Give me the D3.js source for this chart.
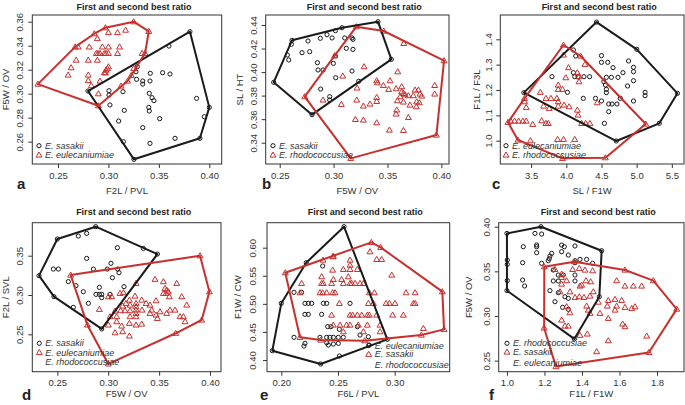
<!DOCTYPE html>
<html><head><meta charset="utf-8">
<script src="https://cdn.jsdelivr.net/npm/d3@7"></script>
<style>body{margin:0;background:#fff} text{font-family:"Liberation Sans",Arial,Helvetica,sans-serif}</style>
</head><body><svg id="c" width="685" height="405"></svg>
<script>
// ---------------- DATA ----------------
const titleText = "First and second best ratio";

// Panel a : F2L/PVL vs F5W/OV
const aXTicks = [0.25, 0.30, 0.35, 0.40];
const aYTicks = [0.26, 0.28, 0.30, 0.32, 0.34, 0.36];
const aLegend = ["E. sasakii", "E. eulecaniumiae"];
const aSas = [[0.2797,0.3022],[0.3808,0.3517],[0.40,0.2886],[0.3907,0.2628],[0.3253,0.2453],
 [0.36,0.3397],[0.3286,0.3225],[0.3273,0.3183],[0.3279,0.312],[0.3415,0.317],[0.3537,0.3175],[0.361,0.3164],
 [0.334,0.3106],[0.334,0.308],[0.3412,0.3106],[0.3005,0.3025],[0.3005,0.2989],[0.3015,0.2906],[0.3144,0.3017],
 [0.3157,0.2861],[0.3405,0.3003],[0.3432,0.2967],[0.3451,0.2942],[0.34,0.2886],[0.3405,0.2856],[0.3101,0.2772],
 [0.3508,0.2792],[0.334,0.2717],[0.3874,0.2961],[0.395,0.2808],[0.366,0.2628],[0.3148,0.26],[0.3412,0.2586]];
const aEul = [[0.23,0.308],[0.267,0.339],[0.286,0.350],[0.297,0.355],[0.325,0.360],[0.340,0.352],[0.3363,0.3337],[0.290,0.290],
 [0.270,0.339],[0.289,0.346],[0.300,0.351],[0.309,0.351],[0.317,0.353],[0.281,0.339],[0.294,0.339],[0.300,0.339],
 [0.311,0.339],[0.288,0.3336],[0.2897,0.3336],[0.2916,0.3336],[0.2959,0.3336],[0.2976,0.3336],[0.300,0.3336],
 [0.309,0.3336],[0.268,0.328],[0.280,0.328],[0.289,0.328],[0.263,0.3217],[0.300,0.3225],[0.299,0.321],
 [0.2976,0.3197],[0.297,0.3175],[0.260,0.3156],[0.280,0.3156],[0.296,0.3175],[0.280,0.311],[0.2916,0.3106],
 [0.283,0.3067],[0.290,0.300],[0.325,0.321],[0.3333,0.3336],[0.319,0.3106],[0.3125,0.3064],[0.3227,0.3153]];

// Panel b : F5W/OV vs SL/HT
const bXTicks = [0.25, 0.30, 0.35, 0.40];
const bYTicks = [0.34, 0.36, 0.38, 0.40, 0.42, 0.44];
const bLegend = ["E. sasakii", "E. rhodococcusiae"];
const bSas = [[0.2444,0.3913],[0.2614,0.427],[0.3078,0.4377],[0.3412,0.4428],[0.3536,0.4108],[0.28,0.3638],[0.3233,0.3922],
 [0.2571,0.4145],[0.2584,0.4103],[0.2608,0.4236],[0.2707,0.4165],[0.2763,0.4264],[0.2778,0.4173],[0.2877,0.4287],
 [0.2939,0.4318],[0.2986,0.429],[0.3017,0.4352],[0.285,0.408],[0.2856,0.4018],[0.2902,0.4018],[0.2998,0.4074],
 [0.3017,0.4137],[0.288,0.3856],[0.2964,0.3791],[0.2964,0.3763],[0.302,0.3952],[0.3103,0.429],[0.3171,0.429],
 [0.318,0.4278],[0.3118,0.4202],[0.318,0.4193],[0.3171,0.4009]];
const bRho = [[0.3211,0.4386],[0.3465,0.4349],[0.4025,0.4097],[0.3954,0.3465],[0.3159,0.3267],[0.2732,0.3791],
 [0.3283,0.4046],[0.3595,0.4003],[0.3085,0.3967],[0.34,0.3927],[0.3406,0.391],[0.3524,0.3927],[0.3462,0.3887],
 [0.3218,0.3865],[0.3511,0.3853],[0.358,0.3859],[0.3632,0.3876],[0.3632,0.3833],[0.3648,0.3819],[0.3663,0.3808],
 [0.3617,0.3791],[0.3694,0.38],[0.3756,0.3848],[0.3787,0.3848],[0.374,0.38],[0.3802,0.3814],[0.3818,0.3797],
 [0.3938,0.3887],[0.3938,0.3814],[0.3592,0.3757],[0.3648,0.3746],[0.3709,0.372],[0.3771,0.3748],[0.3796,0.374],
 [0.3768,0.3706],[0.3586,0.3678],[0.358,0.3644],[0.3694,0.3615],[0.2902,0.3763],[0.3072,0.3726],[0.3215,0.3763],
 [0.3276,0.3712],[0.3338,0.3729],[0.34,0.3785],[0.34,0.3751],[0.3202,0.3598],[0.3276,0.3593],[0.34,0.357],
 [0.3518,0.3508],[0.3648,0.3505],[0.3651,0.4244],[0.301,0.414]];

// Panel c : SL/F1W vs F1L/F3L
const cXTicks = [3.5, 4.0, 4.5, 5.0, 5.5];
const cYTicks = [1.0, 1.1, 1.2, 1.3, 1.4];
const cLegend = ["E. eulecaniumiae", "E. rhodococcusiae"];
const cEul = [[4.43,1.468],[5.002,1.3605],[5.58,1.1868],[5.322,1.0684],[4.711,0.9987],[3.397,1.1895],
 [4.101,1.3579],[4.134,1.334],[3.796,1.2526],[4.101,1.2684],[4.12,1.2526],[4.167,1.2526],[4.251,1.2526],
 [4.331,1.2526],[4.016,1.1908],[4.242,1.1671],[4.5,1.3355],[4.5,1.3092],[4.589,1.3092],[4.664,1.2882],
 [4.57,1.25],[4.641,1.25],[4.735,1.25],[4.805,1.2684],[4.885,1.3145],[4.955,1.2895],[4.955,1.2724],
 [4.955,1.2368],[4.871,1.2158],[5.12,1.1908],[5.12,1.1776],[4.533,1.2329],[4.556,1.2197],[4.57,1.2026],
 [4.57,1.1895],[4.415,1.1671],[4.5,1.1566],[4.603,1.1447],[4.65,1.1447],[4.768,1.1671],[4.72,1.1447],
 [4.955,1.1566],[4.603,1.1145],[4.542,1.0684]];
const cRho = [[3.96,1.3776],[4.204,1.3342],[5.129,1.0658],[4.556,0.9329],[3.946,0.9303],[3.312,1.0026],[3.171,1.0724],[3.406,1.1671],
 [3.96,1.3382],[4.031,1.2882],[3.993,1.2487],[4.157,1.2684],[4.181,1.2526],[4.181,1.2329],[4.265,1.3013],
 [3.885,1.2197],[3.885,1.2026],[3.946,1.2026],[3.631,1.1908],[3.711,1.1671],[3.782,1.1671],[3.866,1.1671],
 [3.885,1.154],[3.885,1.1368],[3.969,1.1408],[4.04,1.1342],[3.758,1.1276],[3.678,1.1368],[3.406,1.154],
 [3.43,1.1316],[3.65,1.079],[3.711,1.0684],[3.744,1.0684],[3.523,1.0645],[3.209,1.0776],[3.265,1.0776],
 [3.322,1.0776],[3.383,1.0776],[3.43,1.0776],[3.49,1.0],[3.876,1.0053],[3.96,1.0053],[4.12,1.0053],
 [4.157,1.121],[4.167,1.1013],[4.218,1.0684],[4.275,1.0684],[4.336,1.0684],[4.439,1.15]];

// Panel d : F5W/OV vs F2L/SVL
const dXTicks = [0.25, 0.30, 0.35, 0.40];
const dYTicks = [0.25, 0.30, 0.35];
const dLegend = ["E. sasakii", "E. eulecaniumiae", "E. rhodococcusiae"];
const dSas = [[0.232,0.3246],[0.25,0.3712],[0.2877,0.3869],[0.3483,0.3521],[0.2936,0.2568],[0.2467,0.2979],
 [0.2706,0.375],[0.2788,0.3784],[0.2788,0.3466],[0.309,0.3602],[0.3345,0.3593],[0.2461,0.333],[0.251,0.333],
 [0.2608,0.317],[0.2683,0.3119],[0.2854,0.333],[0.2991,0.333],[0.3027,0.3403],[0.3093,0.333],[0.3106,0.3284],
 [0.3041,0.322],[0.3155,0.3106],[0.2755,0.3042],[0.2805,0.2894],[0.2657,0.2843],[0.2913,0.3097],[0.2913,0.3008],
 [0.288,0.3008],[0.2936,0.3008],[0.2936,0.2966],[0.3018,0.3008]];
const dEul = [[0.2631,0.3254],[0.3902,0.35],[0.3994,0.3042],[0.3918,0.2682],[0.3663,0.2513],[0.3001,0.2123],[0.2795,0.2619],
 [0.3273,0.3148],[0.346,0.32],[0.3542,0.317],[0.3673,0.3148],[0.3558,0.3085],[0.3574,0.3064],[0.3591,0.3042],
 [0.3542,0.3021],[0.3568,0.3021],[0.36,0.2979],[0.3722,0.2979],[0.347,0.2928],[0.341,0.2873],[0.3373,0.2894],
 [0.3001,0.2979],[0.3034,0.2979],[0.3116,0.3021],[0.3149,0.303],[0.3263,0.2987],[0.3273,0.2894],[0.3273,0.2852],
 [0.3273,0.281],[0.3273,0.2767],[0.3273,0.2725],[0.3329,0.2936],[0.3332,0.2809],[0.3208,0.2936],[0.3214,0.2873],
 [0.3214,0.2801],[0.3214,0.2725],[0.3142,0.286],[0.3175,0.2894],[0.3067,0.2797],[0.3122,0.2801],[0.3165,0.2801],
 [0.2913,0.2818],[0.3018,0.2725],[0.3083,0.2725],[0.3001,0.2619],[0.3083,0.2661],[0.3132,0.2606],[0.3208,0.264],
 [0.3273,0.2619],[0.3329,0.2631],[0.341,0.2767],[0.347,0.2746],[0.3509,0.2788],[0.3574,0.2767],[0.3607,0.2809],
 [0.3656,0.2809],[0.3705,0.2725],[0.3771,0.2873],[0.3483,0.2703],[0.3738,0.2725],[0.3755,0.2661],[0.3067,0.2521],
 [0.3142,0.2534],[0.3208,0.2479],[0.3427,0.2809]];

// Panel e : F6L/PVL vs F1W/CW
const eXTicks = [0.20, 0.25, 0.30];
const eYTicks = [0.40, 0.45, 0.50, 0.55, 0.60];
const eLegend = ["E. eulecaniumiae", "E. sasakii", "E. rhodococcusiae"];
const eEul = [[0.2553,0.6374],[0.222,0.5733],[0.20,0.5009],[0.1921,0.4166],[0.2347,0.3929],[0.2935,0.4368],
 [0.2365,0.5674],[0.2112,0.5205],[0.2179,0.5205],[0.2209,0.5009],[0.2238,0.5009],[0.2268,0.5009],[0.2371,0.5009],
 [0.24,0.5009],[0.2606,0.5009],[0.2209,0.4813],[0.2238,0.4813],[0.2356,0.4813],[0.2409,0.4594],[0.2438,0.4594],
 [0.2512,0.4546],[0.2671,0.4594],[0.2112,0.4404],[0.2341,0.4404],[0.24,0.4404],[0.2429,0.4404],[0.2459,0.4404],
 [0.2503,0.4404],[0.2547,0.4404],[0.2694,0.4445],[0.2768,0.4415],[0.2209,0.4297],[0.22,0.4249],[0.24,0.4309],
 [0.2415,0.4267],[0.2459,0.4285],[0.2503,0.4297],[0.2512,0.4071],[0.2776,0.4267]];
const eSas = [[0.2035,0.5555],[0.2456,0.584],[0.2794,0.6095],[0.2876,0.6006],[0.342,0.5217],[0.3435,0.4546],
 [0.3235,0.4445],[0.2735,0.4344],[0.2347,0.4356],[0.2165,0.4404],
 [0.2782,0.5929],[0.2841,0.5792],[0.2885,0.5792],[0.2974,0.5513],[0.2459,0.5852],[0.2606,0.578],[0.2368,0.578],
 [0.2606,0.5691],[0.2547,0.5614],[0.2606,0.5614],[0.2671,0.5614],[0.2453,0.5602],[0.2356,0.5484],[0.2459,0.5436],
 [0.2532,0.5436],[0.2591,0.5484],[0.2179,0.5365],[0.2356,0.5365],[0.2371,0.5365],[0.2444,0.5365],[0.2547,0.5365],
 [0.2606,0.5365],[0.2621,0.5365],[0.265,0.5365],[0.2694,0.5365],[0.2724,0.5365],[0.2165,0.5199],[0.2341,0.5199],
 [0.2365,0.5199],[0.24,0.5199],[0.2453,0.5199],[0.2474,0.5199],[0.31,0.5199],[0.318,0.5199],[0.2776,0.5199],
 [0.2821,0.5199],[0.2512,0.5009],[0.2768,0.5009],[0.2812,0.5009],[0.2924,0.5009],[0.2953,0.5009],[0.3003,0.5009],
 [0.3165,0.5009],[0.318,0.5009],[0.2444,0.4801],[0.2606,0.4801],[0.2629,0.4801],[0.2671,0.4801],[0.2709,0.4801],
 [0.2759,0.4801],[0.2776,0.4801],[0.2841,0.4801],[0.2982,0.4801],[0.3076,0.4801],[0.2459,0.4623],[0.2518,0.4623],
 [0.2576,0.4623],[0.2606,0.4623],[0.2679,0.4623],[0.2759,0.4623],[0.2871,0.4623],[0.3253,0.4563],[0.2547,0.4504],
 [0.2724,0.4504],[0.2871,0.4504]];

// Panel f : F1L/F1W vs F5W/OV
const fXTicks = [1.0, 1.2, 1.4, 1.6, 1.8];
const fYTicks = [0.25, 0.30, 0.35, 0.40];
const fLegend = ["E. rhodococcusiae", "E. sasakii", "E. eulecaniumiae"];
const fRho = [[1.0,0.3925],[1.1813,0.40],[1.505,0.3731],[1.4924,0.3216],[1.3591,0.2743],[1.0,0.3284],
 [1.1493,0.3925],[1.1849,0.3918],[1.0871,0.3776],[1.1582,0.3795],[1.1582,0.3776],[1.1582,0.3709],[1.0018,0.3627],
 [1.0018,0.3578],[1.0836,0.3597],[1.0018,0.3396],[1.0836,0.3403],[1.0942,0.3336],[1.2382,0.3701],[1.2293,0.3672],
 [1.2258,0.3642],[1.2204,0.3619],[1.2916,0.3795],[1.3058,0.3776],[1.2916,0.372],[1.3271,0.3683],[1.3627,0.3784],
 [1.1849,0.359],[1.3893,0.3634],[1.4249,0.3634],[1.3627,0.3619],[1.3627,0.3597],[1.4569,0.359],[1.2471,0.3515],
 [1.2738,0.3459],[1.3004,0.3459],[1.3627,0.3459],[1.3627,0.3392],[1.2471,0.3392],[1.2738,0.3392],[1.2293,0.3284],
 [1.2738,0.3261],[1.3093,0.3216],[1.3271,0.3198],[1.256,0.316],[1.2969,0.3097],[1.3271,0.3075]];
const fSas = [[1.1991,0.3552],[1.3591,0.3608],[1.6293,0.3515],[1.7804,0.3396],[1.905,0.3077],[1.7565,0.2592],[1.261,0.2433],[1.1982,0.2866],
 [1.256,0.3522],[1.2916,0.347],[1.3502,0.3522],[1.3858,0.3534],[1.416,0.3515],[1.4569,0.3507],[1.2916,0.3433],
 [1.2916,0.3358],[1.3182,0.3396],[1.3893,0.3336],[1.3982,0.3347],[1.4213,0.3396],[1.4462,0.3384],[1.5849,0.3396],
 [1.6293,0.3336],[1.6738,0.3336],[1.7182,0.3336],[1.2827,0.3272],[1.336,0.3272],[1.3627,0.3209],[1.3858,0.3216],
 [1.4107,0.3209],[1.4427,0.3224],[1.4604,0.3272],[1.4871,0.3156],[1.5404,0.3175],[1.576,0.3187],[1.6116,0.3175],
 [1.5351,0.3112],[1.5849,0.3112],[1.6293,0.3097],[1.6649,0.3086],[1.6827,0.3104],[1.4249,0.3112],[1.4338,0.3067],
 [1.3182,0.3105],[1.336,0.3037],[1.4427,0.303],[1.496,0.303],[1.5404,0.2974],[1.576,0.3067],[1.2916,0.2955],
 [1.3093,0.2888],[1.3271,0.2888],[1.6169,0.2911],[1.6293,0.2881],[1.5404,0.2724],[1.7449,0.2776],[1.3893,0.2784],
 [1.4782,0.2601],[1.4284,0.2799]];

// ---------------- LAYOUT ----------------
const RED = "#c8302d", BLK = "#1a1a1a", AX = "#333";
const panels = [
 {L:"a", box:[32.3,15,221.7,164], xd:[0.2245,0.4123], yd:[0.2414,0.3656], xt:aXTicks, yt:aYTicks, xf:".2f", yf:".2f",
  xlab:"F2L / PVL", ylab:"F5W / OV", sets:[[aSas,"c",BLK],[aEul,"t",RED]], leg:aLegend, legSym:["c","t"], legX:39, legY:[145.7,155],
  yTickOff:9.5, yLabOff:23.5, titleY:9.5, xTickY:179, xLabY:193.5, letX:17, letY:188.5},
 {L:"b", box:[265.7,15,449,164], xd:[0.237,0.4071], yd:[0.3219,0.4485], xt:bXTicks, yt:bYTicks, xf:".2f", yf:".2f",
  xlab:"F5W / OV", ylab:"SL / HT", sets:[[bSas,"c",BLK],[bRho,"t",RED]], leg:bLegend, legSym:["c","t"], legX:273, legY:[145.7,155],
  yTickOff:8.5, yLabOff:23, titleY:9.5, xTickY:179, xLabY:193.5, letX:262, letY:188.5},
 {L:"c", box:[500.3,15,684,164], xd:[3.062,5.673], yd:[0.908,1.4959], xt:cXTicks, yt:cYTicks, xf:".1f", yf:".1f",
  xlab:"SL / F1W", ylab:"F1L / F3L", sets:[[cEul,"c",BLK],[cRho,"t",RED]], leg:cLegend, legSym:["c","t"], legX:506, legY:[145.7,155],
  yTickOff:8, yLabOff:20, titleY:9.5, xTickY:179, xLabY:193.5, letX:492, letY:188.5},
 {L:"d", box:[32.3,222.7,221,371.7], xd:[0.2254,0.4108], yd:[0.2024,0.392], xt:dXTicks, yt:dYTicks, xf:".2f", yf:".2f",
  xlab:"F5W / OV", ylab:"F2L / SVL", sets:[[dSas,"c",BLK],[dEul,"t",RED]], leg:dLegend, legSym:["c","t",null], legX:39.3, legY:[343.3,352.5,361.8],
  yTickOff:9.5, yLabOff:23.5, titleY:214.5, xTickY:386.5, xLabY:397, letX:22, letY:400},
 {L:"e", box:[267,222.7,449.7,371.7], xd:[0.1874,0.3485], yd:[0.3792,0.6445], xt:eXTicks, yt:eYTicks, xf:".2f", yf:".2f",
  xlab:"F6L / PVL", ylab:"F1W / CW", sets:[[eEul,"c",BLK],[eSas,"t",RED]], leg:eLegend, legSym:["c","t",null], legX:368.7, legY:[345.5,354.3,364.5],
  yTickOff:11, yLabOff:26, titleY:214.5, xTickY:386.5, xLabY:397, letX:260, letY:400},
 {L:"f", box:[498.7,222.7,684,371.7], xd:[0.956,1.944], yd:[0.2376,0.4045], xt:fXTicks, yt:fYTicks, xf:".1f", yf:".2f",
  xlab:"F1L / F1W", ylab:"F5W / OV", sets:[[fRho,"c",BLK],[fSas,"t",RED]], leg:fLegend, legSym:["c","t",null], legX:507, legY:[343.3,352,363],
  yTickOff:8.5, yLabOff:27, titleY:214.5, xTickY:386.5, xLabY:397, letX:489, letY:400}
];

const svg = d3.select("#c");
const tri = d3.symbol().type(d3.symbolTriangle).size(15);

function drawSym(g, type, color, x, y){
  if(type==="c") g.append("circle").attr("cx",x).attr("cy",y).attr("r",2.1).attr("fill","none").attr("stroke",color).attr("stroke-width",1);
  else if(type==="t") g.append("path").attr("d",tri()).attr("transform",`translate(${x},${y+0.4})`).attr("fill","none").attr("stroke",color).attr("stroke-width",1);
}

panels.forEach(p=>{
  const [x0,y0,x1,y1] = p.box;
  const x = d3.scaleLinear().domain(p.xd).range([x0,x1]);
  const y = d3.scaleLinear().domain(p.yd).range([y1,y0]);
  const g = svg.append("g");

  // points
  p.sets.forEach(([data,type,color])=>{
    data.forEach(d=>drawSym(g,type,color,x(d[0]),y(d[1])));
  });
  // hulls
  p.sets.forEach(([data,type,color])=>{
    const hull = d3.polygonHull(data.map(d=>[x(d[0]),y(d[1])]));
    g.append("path").attr("d","M"+hull.join("L")+"Z").attr("fill","none")
      .attr("stroke",color).attr("stroke-width",2).attr("stroke-linejoin","round");
  });

  // box
  g.append("rect").attr("x",x0).attr("y",y0).attr("width",x1-x0).attr("height",y1-y0)
    .attr("fill","none").attr("stroke",AX).attr("stroke-width",1);

  // x axis
  const xa = d3.axisBottom(x).tickValues(p.xt).tickFormat(d3.format(p.xf)).tickSize(4).tickSizeOuter(0);
  const gx = g.append("g").attr("transform",`translate(0,${y1})`).call(xa);
  gx.select(".domain").attr("stroke",AX).attr("d",`M${x(p.xt[0])},0H${x(p.xt[p.xt.length-1])}`).attr("stroke-width",0);
  gx.selectAll(".tick line").attr("stroke",AX);
  gx.selectAll(".tick text").attr("y",null).attr("dy",null)
    .attr("transform",null).attr("font-size","9.5px").attr("fill","#333")
    .attr("font-family","Liberation Sans, Arial, sans-serif")
    .each(function(){ d3.select(this).attr("y", p.xTickY - y1); });

  // y axis
  const ya = d3.axisLeft(y).tickValues(p.yt).tickFormat(d3.format(p.yf)).tickSize(4).tickSizeOuter(0);
  const gy = g.append("g").attr("transform",`translate(${x0},0)`).call(ya);
  gy.select(".domain").attr("stroke-width",0);
  gy.selectAll(".tick line").attr("stroke",AX);
  gy.selectAll(".tick text").attr("x",null).attr("dy",null).attr("font-size","9.5px").attr("fill","#333")
    .attr("font-family","Liberation Sans, Arial, sans-serif")
    .attr("text-anchor","middle").attr("transform",`translate(${-p.yTickOff},0) rotate(-90)`).attr("x",0).attr("y",0);

  // labels
  g.append("text").attr("x",(x0+x1)/2).attr("y",p.xLabY).attr("text-anchor","middle")
    .attr("font-size","9.5px").attr("fill","#333").text(p.xlab);
  g.append("text").attr("transform",`translate(${x0-p.yLabOff},${(y0+y1)/2}) rotate(-90)`).attr("text-anchor","middle")
    .attr("font-size","9.5px").attr("fill","#333").text(p.ylab);
  g.append("text").attr("x",(x0+x1)/2+7).attr("y",p.titleY).attr("text-anchor","middle")
    .attr("font-size","9px").attr("font-weight","bold").attr("fill","#222").text(titleText);
  g.append("text").attr("x",p.letX).attr("y",p.letY).attr("font-size","15px").attr("font-weight","bold")
    .attr("fill","#222").text(p.L);

  // legend
  p.leg.forEach((t,i)=>{
    const ly = p.legY[i];
    const col = p.legSym[i]==="c"?BLK:RED;
    if(p.legSym[i]) drawSym(g,p.legSym[i],col,p.legX,ly);
    g.append("text").attr("x",p.legX+6).attr("y",ly).attr("dy","0.35em")
      .attr("font-size","9px").attr("font-style","italic").attr("fill","#333").text(t);
  });
});
</script></body></html>
